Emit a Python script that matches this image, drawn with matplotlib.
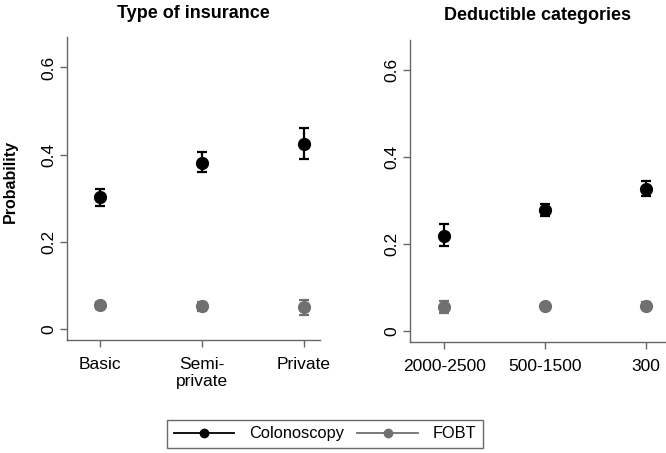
import numpy as np
import matplotlib.pyplot as plt

plt.rcParams['font.family'] = ['Liberation Sans', 'DejaVu Sans']

insurance_labels = ['Basic', 'Semi-\nprivate', 'Private']
insurance_colo = [0.303, 0.382, 0.425]
insurance_colo_lo = [0.283, 0.360, 0.389]
insurance_colo_hi = [0.321, 0.406, 0.462]
insurance_fobt = [0.055, 0.052, 0.050]
insurance_fobt_lo = [0.047, 0.042, 0.032]
insurance_fobt_hi = [0.063, 0.062, 0.067]

deduct_labels = ['2000-2500', '500-1500', '300']
deduct_colo = [0.220, 0.278, 0.328]
deduct_colo_lo = [0.195, 0.264, 0.312]
deduct_colo_hi = [0.246, 0.293, 0.346]
deduct_fobt = [0.056, 0.057, 0.058]
deduct_fobt_lo = [0.042, 0.052, 0.050]
deduct_fobt_hi = [0.069, 0.062, 0.066]

black = '#000000'
gray = '#707070'
axis_gray = '#666666'


def draw_panel(ax, labels, colo, colo_lo, colo_hi, fobt, fobt_lo, fobt_hi, title, xlim):
    x = np.arange(len(labels))
    colo = np.array(colo)
    fobt = np.array(fobt)
    h1 = ax.errorbar(x, colo, yerr=[colo - np.array(colo_lo), np.array(colo_hi) - colo],
                     fmt='o', color=black, ms=8.5, capsize=3.5, elinewidth=1.6, capthick=1.6)
    h2 = ax.errorbar(x, fobt, yerr=[fobt - np.array(fobt_lo), np.array(fobt_hi) - fobt],
                     fmt='o', color=gray, ms=8.5, capsize=3.5, elinewidth=1.6, capthick=1.6)
    ax.set_xticks(x)
    ax.set_xticklabels(labels, fontsize=12.5)
    ax.set_xlim(*xlim)
    ax.set_ylim(-0.025, 0.67)
    ax.set_yticks([0, 0.2, 0.4, 0.6])
    ax.set_yticklabels(['0', '0.2', '0.4', '0.6'], rotation=90, va='center', fontsize=12.5)
    for s in ['top', 'right']:
        ax.spines[s].set_visible(False)
    for s in ['left', 'bottom']:
        ax.spines[s].set_color(axis_gray)
        ax.spines[s].set_linewidth(1.0)
    ax.tick_params(axis='both', colors=axis_gray, labelcolor='black', length=5, width=1)
    ax.tick_params(axis='x', pad=7)
    ax.tick_params(axis='y', pad=3)
    ax.set_title(title, fontsize=13, fontweight='bold', pad=14)
    return h1, h2


fig = plt.figure(figsize=(6.66, 4.53), dpi=100)
ax1 = fig.add_axes([0.1006, 0.2494, 0.38, 0.669])
ax2 = fig.add_axes([0.6156, 0.245, 0.384, 0.667])

h1, h2 = draw_panel(ax1, insurance_labels, insurance_colo, insurance_colo_lo, insurance_colo_hi,
                    insurance_fobt, insurance_fobt_lo, insurance_fobt_hi,
                    'Type of insurance', (-0.32, 2.16))
draw_panel(ax2, deduct_labels, deduct_colo, deduct_colo_lo, deduct_colo_hi,
           deduct_fobt, deduct_fobt_lo, deduct_fobt_hi,
           'Deductible categories', (-0.34, 2.2))

fig.text(0.015, 0.6, 'Probability', rotation=90, ha='center', va='center',
         fontsize=11.5, fontweight='bold')

l1, = ax1.plot([], [], '-o', color=black, ms=6, lw=1.3)
l2, = ax1.plot([], [], '-o', color=gray, ms=6, lw=1.3)
leg = fig.legend([l1, l2], ['Colonoscopy', 'FOBT'], loc='center', ncol=2,
                 bbox_to_anchor=(0.488, 0.042), frameon=True, fancybox=False,
                 edgecolor='#444444', fontsize=11.8, handlelength=3.7,
                 columnspacing=0.8, handletextpad=0.9, borderpad=0.4)
leg.get_frame().set_linewidth(1.0)

fig.savefig('out.png', dpi=100)
